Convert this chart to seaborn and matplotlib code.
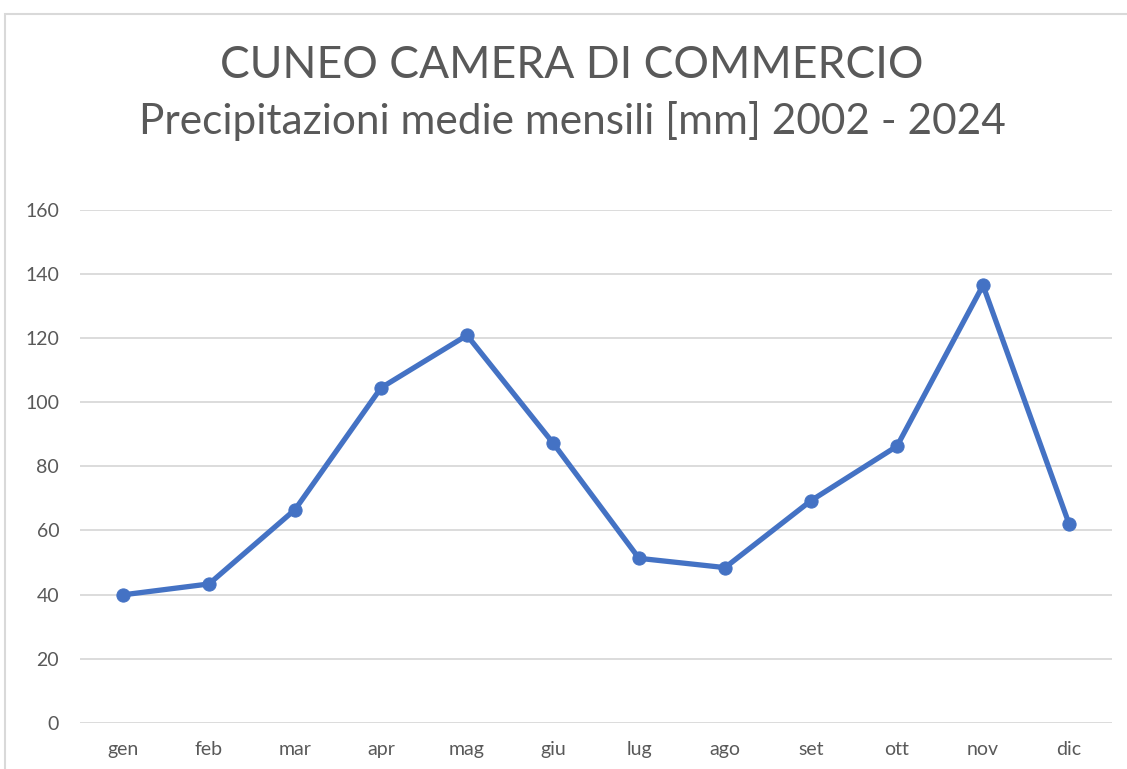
import matplotlib
matplotlib.use("Agg")
import matplotlib.pyplot as plt
import seaborn as sns
import pandas as pd
from matplotlib.patches import Rectangle

months = ["gen", "feb", "mar", "apr", "mag", "giu", "lug", "ago", "set", "ott", "nov", "dic"]
precip = [39.9, 43.3, 66.5, 104.5, 120.9, 87.3, 51.3, 48.4, 69.3, 86.3, 136.5, 62.1]
yticks = [0, 20, 40, 60, 80, 100, 120, 140, 160]
title = "CUNEO CAMERA DI COMMERCIO"
subtitle = "Precipitazioni medie mensili [mm] 2002 - 2024"

sns.set_theme(style="white")
plt.rcParams["font.family"] = ["Lato", "DejaVu Sans"]

df = pd.DataFrame({"mese": months, "mm": precip})

W, H = 1127, 769
fig = plt.figure(figsize=(W / 100, H / 100), dpi=100)
ax = fig.add_axes([80 / W, 1 - 722.7 / H, (1112 - 80) / W, (722.7 - 210) / H])

# chart frame
fig.patches.append(Rectangle((5 / W, -0.1), 1.2, 1 - 14 / H + 0.1, transform=fig.transFigure,
                             fill=False, edgecolor="#D9D9D9", linewidth=1.5))

sns.lineplot(data=df, x="mese", y="mm", ax=ax, color="#4472C4", linewidth=3.8,
             marker="o", markersize=9.5, markeredgecolor="#4472C4", sort=False)

ax.set_xlim(-0.5, 11.5)
ax.set_ylim(0, 160)
ax.set_yticks(yticks)
ax.set_yticklabels([str(v) for v in yticks])
ax.yaxis.grid(True, color="#D9D9D9", linewidth=1.3)
ax.set_axisbelow(True)
for s in ax.spines.values():
    s.set_visible(False)
ax.tick_params(axis="both", length=0, labelsize=14, labelcolor="#595959")
ax.tick_params(axis="y", pad=15)
ax.tick_params(axis="x", pad=13)
ax.set_xlabel("")
ax.set_ylabel("")

fig.text(572 / W, 1 - 66 / H, title, ha="center", va="center", fontsize=32, color="#595959")
fig.text(572 / W, 1 - 121 / H, subtitle, ha="center", va="center", fontsize=30.5, color="#595959")

fig.savefig("out.png", dpi=100)
